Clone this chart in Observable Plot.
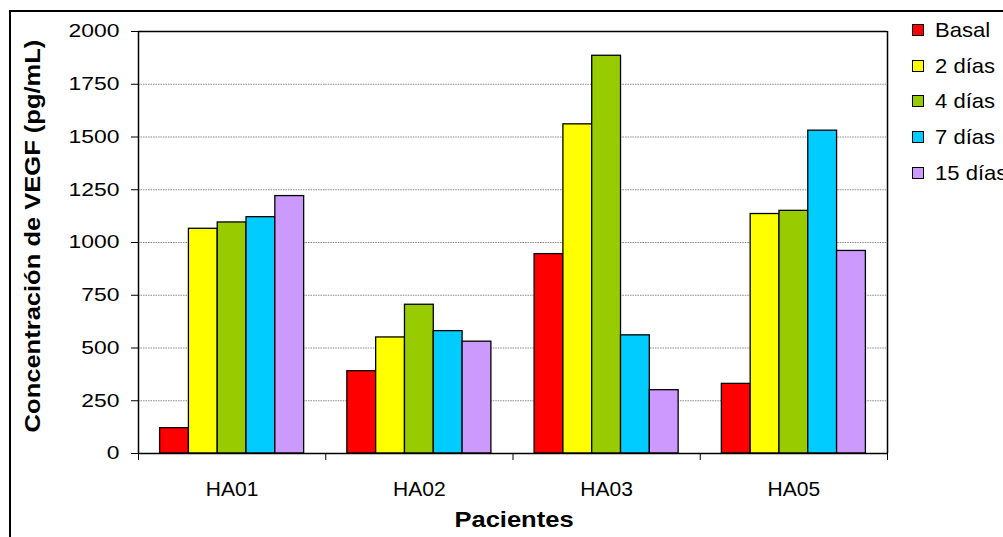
<!DOCTYPE html>
<html>
<head>
<meta charset="utf-8">
<script src="https://cdn.jsdelivr.net/npm/d3@7"></script>
<script src="https://cdn.jsdelivr.net/npm/@observablehq/plot@0.6"></script>
<style>
  html, body { margin: 0; padding: 0; background: #fff; overflow: hidden; width: 1003px; height: 537px; }
  #wrap { position: relative; width: 1003px; height: 537px; font-family: "Liberation Sans", Arial, sans-serif; color: #000; }
  #border { position: absolute; left: 9px; top: 9.5px; width: 1200px; height: 800px; border: 2px solid #000; }
  .layer { position: absolute; left: 0; top: 0; }
  .layer svg { background: transparent !important; }
  #ytitle { position: absolute; left: 33px; top: 236px; font-weight: bold; font-size: 22px; white-space: nowrap;
            transform: translate(-50%, -50%) rotate(-90deg) scaleX(1.16); }
  #xtitle { position: absolute; left: 514px; top: 520px; font-weight: bold; font-size: 22px; white-space: nowrap;
            transform: translate(-50%, -50%) scaleX(1.16); }
  #legend { position: absolute; left: 912px; top: 12px; }
  .row { height: 35.8px; display: flex; align-items: center; white-space: nowrap; }
  .sw { width: 10px; height: 10px; border: 1px solid #000; margin-right: 11px; flex: none; }
  .lt { font-size: 21px; display: inline-block; transform: scaleX(1.05); transform-origin: left center; }
</style>
</head>
<body>
<div id="wrap">
  <div id="border"></div>
  <div id="main" class="layer"></div>
  <div id="over" class="layer"></div>
  <div id="ytitle">Concentración de VEGF (pg/mL)</div>
  <div id="xtitle">Pacientes</div>
  <div id="legend"></div>
</div>
<script>
// ---- data ----
const patients = ["HA01", "HA02", "HA03", "HA05"];
const series = ["Basal", "2 días", "4 días", "7 días", "15 días"];
const basal  = [120, 390, 945, 330];
const dias2  = [1065, 550, 1560, 1135];
const dias4  = [1095, 705, 1885, 1150];
const dias7  = [1120, 580, 560, 1530];
const dias15 = [1220, 530, 300, 960];
const colors = ["#FF0000", "#FFFF00", "#99CC00", "#00CCFF", "#CC99FF"];
const yTicks = [0, 250, 500, 750, 1000, 1250, 1500, 1750, 2000];
const yDomain = [0, 2000];

const valuesBySeries = [basal, dias2, dias4, dias7, dias15];
const rows = [];
patients.forEach((p, i) => series.forEach((s, j) => rows.push({patient: p, series: s, value: valuesBySeries[j][i]})));

const W = 1003, H = 537;
const margins = {marginLeft: 138, marginRight: 116, marginTop: 31, marginBottom: 84};

// ---- main plot: bars, grid, category labels ----
const main = Plot.plot({
  width: W, height: H, ...margins,
  style: {fontFamily: "Liberation Sans, Arial, sans-serif", fontSize: "21px", color: "#000", background: "transparent"},
  facet: {data: rows, x: "patient"},
  fx: {domain: patients, padding: 0, round: false, axis: "bottom", tickSize: 0, tickPadding: 28, label: null},
  x: {domain: series, paddingInner: 0, paddingOuter: 0.75, round: false, axis: null},
  y: {domain: yDomain, axis: null},
  color: {domain: series, range: colors},
  marks: [
    Plot.ruleY(yTicks.filter(t => t > yDomain[0] && t < yDomain[1]), {stroke: "#888", strokeWidth: 1, strokeDasharray: "1.5 1"}),
    Plot.barY(rows, {x: "series", y: "value", fill: "series", stroke: "#000", strokeWidth: 1.3, inset: 0})
  ]
});
document.getElementById("main").appendChild(main);

// ---- overlay: frame lines, y axis, category boundary ticks ----
const boundaries = d3.range(patients.length + 1);
const over = Plot.plot({
  width: W, height: H, ...margins,
  style: {fontFamily: "Liberation Sans, Arial, sans-serif", fontSize: "18px", color: "#000", background: "transparent"},
  x: {domain: [0, patients.length], ticks: boundaries, tickFormat: () => "", tickSize: 7, label: null},
  y: {domain: yDomain, ticks: yTicks, tickFormat: d3.format("d"), tickSize: 7, tickPadding: 12, label: null},
  marks: [
    Plot.ruleY(yDomain, {stroke: "#000", strokeWidth: 1.5}),
    Plot.ruleX([0, patients.length], {stroke: "#000", strokeWidth: 1.5})
  ]
});
document.getElementById("over").appendChild(over);

// stretch y tick labels horizontally like the reference rendering
over.querySelectorAll("text").forEach(t => {
  const len = t.getComputedTextLength();
  if (len > 0) {
    t.setAttribute("textLength", (len * 1.27).toFixed(1));
    t.setAttribute("lengthAdjust", "spacingAndGlyphs");
  }
});

// ---- legend ----
const legend = document.getElementById("legend");
series.forEach((s, j) => {
  const r = document.createElement("div");
  r.className = "row";
  const sw = document.createElement("div");
  sw.className = "sw";
  sw.style.background = colors[j];
  const lt = document.createElement("span");
  lt.className = "lt";
  lt.textContent = s;
  r.appendChild(sw); r.appendChild(lt);
  legend.appendChild(r);
});
</script>
</body>
</html>
